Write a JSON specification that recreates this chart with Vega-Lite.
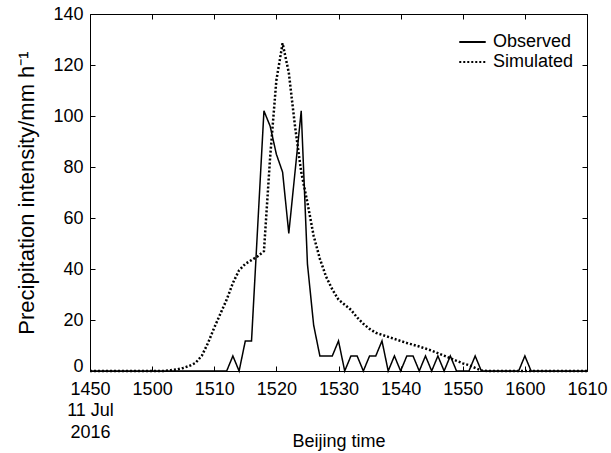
{
  "$schema": "https://vega.github.io/schema/vega-lite/v6.json",
  "width": 497,
  "height": 357,
  "autosize": {"type": "none"},
  "padding": {"left": 90, "top": 14, "right": 24, "bottom": 82},
  "background": "white",
  "config": {
    "font": "Liberation Sans",
    "view": {"stroke": null},
    "axis": {
      "grid": false,
      "domainColor": "black",
      "domainWidth": 1,
      "tickColor": "black",
      "tickWidth": 1,
      "tickSize": -5,
      "labelColor": "black",
      "titleColor": "black",
      "labelFont": "Liberation Sans",
      "titleFont": "Liberation Sans",
      "labelFontSize": 18,
      "titleFontSize": 18,
      "titleFontWeight": "normal"
    },
    "legend": {
      "labelFont": "Liberation Sans",
      "labelFontSize": 18,
      "labelColor": "black",
      "symbolType": "stroke",
      "symbolSize": 700,
      "symbolStrokeWidth": 2,
      "clipHeight": 20,
      "rowPadding": 0,
      "labelOffset": 6
    }
  },
  "data": {
    "values": [
      {"minute": 0, "Observed": 0, "Simulated": 0},
      {"minute": 1, "Observed": 0, "Simulated": 0},
      {"minute": 2, "Observed": 0, "Simulated": 0},
      {"minute": 3, "Observed": 0, "Simulated": 0},
      {"minute": 4, "Observed": 0, "Simulated": 0},
      {"minute": 5, "Observed": 0, "Simulated": 0},
      {"minute": 6, "Observed": 0, "Simulated": 0},
      {"minute": 7, "Observed": 0, "Simulated": 0},
      {"minute": 8, "Observed": 0, "Simulated": 0},
      {"minute": 9, "Observed": 0, "Simulated": 0},
      {"minute": 10, "Observed": 0, "Simulated": 0},
      {"minute": 11, "Observed": 0, "Simulated": 0},
      {"minute": 12, "Observed": 0, "Simulated": 0},
      {"minute": 13, "Observed": 0, "Simulated": 0.3},
      {"minute": 14, "Observed": 0, "Simulated": 0.6},
      {"minute": 15, "Observed": 0, "Simulated": 1.2},
      {"minute": 16, "Observed": 0, "Simulated": 2},
      {"minute": 17, "Observed": 0, "Simulated": 3.2},
      {"minute": 18, "Observed": 0, "Simulated": 6},
      {"minute": 19, "Observed": 0, "Simulated": 11},
      {"minute": 20, "Observed": 0, "Simulated": 17},
      {"minute": 21, "Observed": 0, "Simulated": 22.5},
      {"minute": 22, "Observed": 0, "Simulated": 28},
      {"minute": 23, "Observed": 5.9, "Simulated": 34.5},
      {"minute": 24, "Observed": 0, "Simulated": 39.5},
      {"minute": 25, "Observed": 11.8, "Simulated": 42},
      {"minute": 26, "Observed": 11.8, "Simulated": 43.5},
      {"minute": 27, "Observed": 57, "Simulated": 45},
      {"minute": 28, "Observed": 102, "Simulated": 47},
      {"minute": 29, "Observed": 96, "Simulated": 84},
      {"minute": 30, "Observed": 85, "Simulated": 114},
      {"minute": 31, "Observed": 78, "Simulated": 128.5},
      {"minute": 32, "Observed": 54, "Simulated": 117},
      {"minute": 33, "Observed": 78, "Simulated": 96},
      {"minute": 34, "Observed": 102, "Simulated": 78},
      {"minute": 35, "Observed": 42, "Simulated": 66},
      {"minute": 36, "Observed": 18, "Simulated": 53},
      {"minute": 37, "Observed": 5.9, "Simulated": 44},
      {"minute": 38, "Observed": 5.9, "Simulated": 37},
      {"minute": 39, "Observed": 5.9, "Simulated": 32},
      {"minute": 40, "Observed": 11.8, "Simulated": 28},
      {"minute": 41, "Observed": 0, "Simulated": 26},
      {"minute": 42, "Observed": 5.9, "Simulated": 24},
      {"minute": 43, "Observed": 5.9, "Simulated": 21},
      {"minute": 44, "Observed": 0, "Simulated": 18.5},
      {"minute": 45, "Observed": 5.9, "Simulated": 16.5},
      {"minute": 46, "Observed": 5.9, "Simulated": 15},
      {"minute": 47, "Observed": 11.8, "Simulated": 14.2},
      {"minute": 48, "Observed": 0, "Simulated": 13.4},
      {"minute": 49, "Observed": 5.9, "Simulated": 12.6},
      {"minute": 50, "Observed": 0, "Simulated": 11.8},
      {"minute": 51, "Observed": 5.9, "Simulated": 11},
      {"minute": 52, "Observed": 5.9, "Simulated": 10.3},
      {"minute": 53, "Observed": 0, "Simulated": 9.6},
      {"minute": 54, "Observed": 5.9, "Simulated": 8.8},
      {"minute": 55, "Observed": 0, "Simulated": 8},
      {"minute": 56, "Observed": 5.9, "Simulated": 7},
      {"minute": 57, "Observed": 0, "Simulated": 6},
      {"minute": 58, "Observed": 5.9, "Simulated": 5},
      {"minute": 59, "Observed": 0, "Simulated": 4},
      {"minute": 60, "Observed": 0, "Simulated": 3},
      {"minute": 61, "Observed": 0, "Simulated": 2.3},
      {"minute": 62, "Observed": 5.9, "Simulated": 1.2},
      {"minute": 63, "Observed": 0, "Simulated": 0.2},
      {"minute": 64, "Observed": 0, "Simulated": 0},
      {"minute": 65, "Observed": 0, "Simulated": 0},
      {"minute": 66, "Observed": 0, "Simulated": 0},
      {"minute": 67, "Observed": 0, "Simulated": 0},
      {"minute": 68, "Observed": 0, "Simulated": 0},
      {"minute": 69, "Observed": 0, "Simulated": 0},
      {"minute": 70, "Observed": 5.9, "Simulated": 0},
      {"minute": 71, "Observed": 0, "Simulated": 0},
      {"minute": 72, "Observed": 0, "Simulated": 0},
      {"minute": 73, "Observed": 0, "Simulated": 0},
      {"minute": 74, "Observed": 0, "Simulated": 0},
      {"minute": 75, "Observed": 0, "Simulated": 0},
      {"minute": 76, "Observed": 0, "Simulated": 0},
      {"minute": 77, "Observed": 0, "Simulated": 0},
      {"minute": 78, "Observed": 0, "Simulated": 0},
      {"minute": 79, "Observed": 0, "Simulated": 0},
      {"minute": 80, "Observed": 0, "Simulated": 0}
    ]
  },
  "transform": [{"fold": ["Observed", "Simulated"], "as": ["series", "value"]}],
  "layer": [
    {
      "transform": [{"filter": "datum.series == 'Observed'"}],
      "mark": {"type": "line", "strokeWidth": 1.5},
      "encoding": {
        "x": {
          "field": "minute", "type": "quantitative",
          "scale": {"domain": [0, 80], "nice": false},
          "axis": {
            "orient": "bottom",
            "title": "Beijing time",
            "values": [0, 10, 20, 30, 40, 50, 60, 70, 80],
            "labelExpr": "datum.value == 0 ? ['1450', '11 Jul', '2016'] : format((14 + floor((50 + datum.value) / 60)) * 100 + (50 + datum.value) % 60, 'd')",
            "labelOverlap": false,
            "labelFlush": false,
            "labelPadding": 14,
            "labelLineHeight": 21.5,
            "titleY": 75,
            "titleBaseline": "alphabetic"
          }
        },
        "y": {
          "field": "value", "type": "quantitative",
          "scale": {"domain": [0, 140], "nice": false},
          "axis": {
            "orient": "left",
            "title": "Precipitation intensity/mm h⁻¹",
            "titleFontSize": 22,
            "values": [0, 20, 40, 60, 80, 100, 120, 140],
            "labelPadding": 12,
            "labelBaseline": {"condition": {"test": "datum.value == 0", "value": "alphabetic"}, "value": "middle"},
            "titleX": -57,
            "titleBaseline": "alphabetic"
          }
        },
        "color": {"field": "series", "type": "nominal", "scale": {"range": ["black", "black"]},
          "legend": {"title": null, "orient": "none", "legendX": 368, "legendY": 18}},
        "strokeDash": {"field": "series", "type": "nominal", "scale": {"range": [[1, 0], [2, 2]]},
          "legend": {"title": null, "orient": "none", "legendX": 368, "legendY": 18}}
      }
    },
    {
      "transform": [{"filter": "datum.series == 'Simulated'"}],
      "mark": {"type": "line", "strokeWidth": 2.5},
      "encoding": {
        "x": {
          "field": "minute", "type": "quantitative",
          "scale": {"domain": [0, 80], "nice": false},
          "axis": {"orient": "top", "title": null, "labels": false,
            "values": [0, 10, 20, 30, 40, 50, 60, 70, 80]}
        },
        "y": {
          "field": "value", "type": "quantitative",
          "scale": {"domain": [0, 140], "nice": false},
          "axis": {"orient": "right", "title": null, "labels": false,
            "values": [0, 20, 40, 60, 80, 100, 120, 140]}
        },
        "color": {"field": "series", "type": "nominal", "scale": {"range": ["black", "black"]},
          "legend": {"title": null, "orient": "none", "legendX": 368, "legendY": 18}},
        "strokeDash": {"field": "series", "type": "nominal", "scale": {"range": [[1, 0], [2, 2]]},
          "legend": {"title": null, "orient": "none", "legendX": 368, "legendY": 18}}
      }
    }
  ],
  "resolve": {"axis": {"x": "independent", "y": "independent"}}
}
